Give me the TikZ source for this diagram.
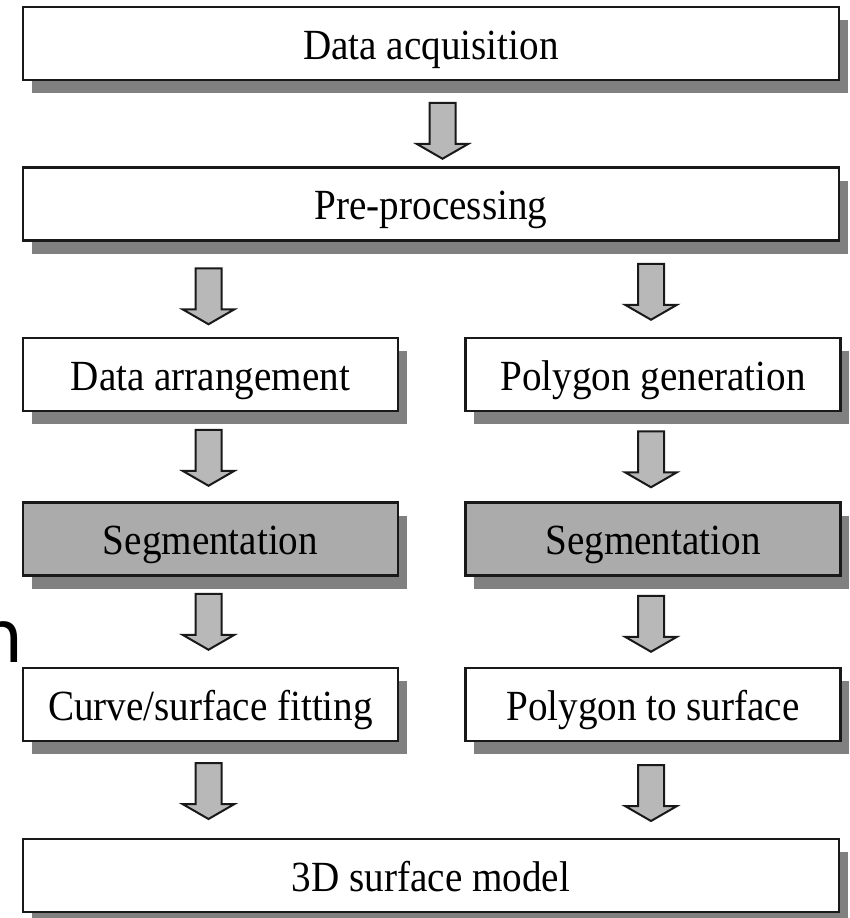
\documentclass[tikz,border=0pt]{standalone}
\usepackage{fontspec}
\setmainfont{Liberation Serif}
\newfontfamily\boxfont[FakeStretch=0.91]{Liberation Serif}
\newfontfamily\artfont{DejaVu Sans}
\usetikzlibrary{shadows,calc}
\begin{document}
\begin{tikzpicture}[x=1pt,y=-1pt,
  box/.style={draw=black!90, line width=2.5pt, fill=white, minimum height=73pt,
    text height=31pt, text depth=0pt, inner sep=0pt,
    font=\boxfont\fontsize{43}{48}\selectfont,
    drop shadow={shadow xshift=8.5pt, shadow yshift=-13pt, fill=black!50, opacity=1}},
  segbox/.style={box, fill=black!33},
  wide/.style={minimum width=816pt},
  col/.style={minimum width=375pt},
  barrow/.pic={\draw[line width=2pt, draw=black!90, fill=black!28, line join=miter]
    (-13,-28) -- (13,-28) -- (13,13) -- (26,13) -- (0,28) -- (-26,13) -- (-13,13) -- cycle;}
]
\useasboundingbox (0,0) rectangle (850,918);
\fill[white] (0,0) rectangle (850,918);
\begin{scope}
\clip (0,0) rectangle (850,918);
% boxes
\node[box, wide] (acq) at (431,43.5) {Data acquisition};
\node[box, wide] (pre) at (431,204) {Pre-processing};
\node[box, col] (l3) at (210.5,374.5) {Data arrangement};
\node[box, col] (r3) at (653,374.5) {Polygon generation};
\node[segbox, col] (l4) at (210.5,539) {Segmentation};
\node[segbox, col] (r4) at (653,539) {Segmentation};
\node[box, col] (l5) at (210.5,704.5) {Curve/surface fitting};
\node[box, col] (r5) at (653,704.5) {Polygon to surface};
\node[box, wide] (model) at (431,875.5) {3D surface model};
% block arrows
\pic at ($(acq.south)!.5!(pre.north)+(11.5,7)$) {barrow};
\pic at ($(l3.north |- pre.south)!.5!(l3.north)+(-2,7)$) {barrow};
\pic at ($(r3.north |- pre.south)!.5!(r3.north)+(-2,2.5)$) {barrow};
\pic at ($(l3.south)!.5!(l4.north)+(-2,1)$) {barrow};
\pic at ($(r3.south)!.5!(r4.north)+(-2,2.5)$) {barrow};
\pic at ($(l4.south)!.5!(l5.north)+(-2,0)$) {barrow};
\pic at ($(r4.south)!.5!(r5.north)+(-2,2)$) {barrow};
\pic at ($(l5.south)!.5!(l5.south |- model.north)+(-2,1)$) {barrow};
\pic at ($(r5.south)!.5!(r5.south |- model.north)+(-2,3)$) {barrow};
% stray glyph at left edge (cut off in the reference as well)
\node[anchor=base east, inner sep=0pt, font=\artfont\fontsize{73}{80}\selectfont] (stray) at (23.5,662) {n};
\end{scope}
\end{tikzpicture}
\end{document}
